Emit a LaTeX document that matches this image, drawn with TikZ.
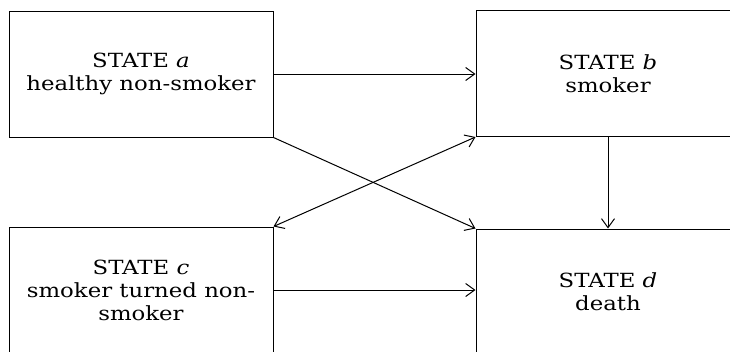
\documentclass[tikz,border=0pt]{standalone}
\usepackage{fontspec}
\setmainfont{DejaVu Serif}[FakeStretch=1.17]
\usetikzlibrary{arrows.meta}
\begin{document}
\begin{tikzpicture}[x=1pt,y=-1pt,
  statebox/.style={draw, line width=1pt, rectangle, minimum width=264pt, minimum height=126pt,
    inner sep=0pt, align=center, font=\fontsize{19.5}{23}\selectfont},
  conn/.style={line width=1pt, -{Straight Barb[length=9pt,width=13pt,line width=1pt]}},
  conn2/.style={line width=1pt, {Straight Barb[length=9pt,width=13pt,line width=1pt]}-{Straight Barb[length=9pt,width=13pt,line width=1pt]}}]
\useasboundingbox (0,0) rectangle (730,351);
\clip (0,0) rectangle (730,351);
\fill[white] (0,0) rectangle (730,351);
\node[statebox] (a) at (141,74) {STATE \textit{a}\\healthy non-smoker};
\node[statebox] (b) at (608,73.5) {STATE \textit{b}\\smoker};
\node[statebox] (c) at (141,290) {STATE \textit{c}\\smoker turned non-\\smoker};
\node[statebox] (d) at (608,292) {STATE \textit{d}\\death};
\draw[conn] (a.east) -- (a.east -| b.west);
\draw[conn] (a.south east) -- (d.north west);
\draw[conn2] (c.north east) -- (b.south west);
\draw[conn] (b.south) -- (d.north);
\draw[conn] (c.east) -- (c.east -| d.west);
\end{tikzpicture}
\end{document}
